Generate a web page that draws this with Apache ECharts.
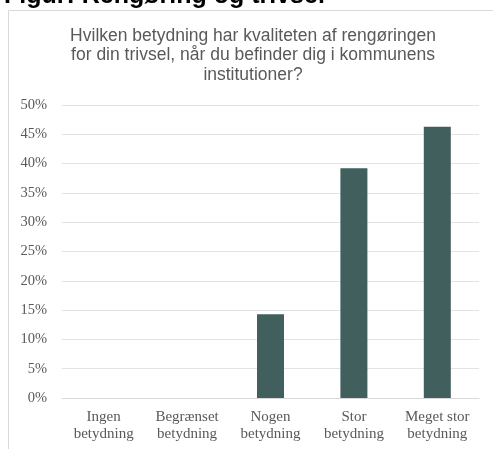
<!DOCTYPE html>
<html><head><meta charset="utf-8">
<script src="https://cdn.jsdelivr.net/npm/echarts@6/dist/echarts.min.js"></script>
<style>html,body{margin:0;padding:0;background:#fff}#c{width:493px;height:449px}</style>
</head><body><div id="c"></div>
<script>
const categories = ['Ingen\nbetydning', 'Begrænset\nbetydning', 'Nogen\nbetydning', 'Stor\nbetydning', 'Meget stor\nbetydning'];
const values = [0, 0, 14.3, 39.2, 46.3];
const yTicks = { min: 0, max: 50, interval: 5 };
const figTitle = 'Figur: Rengøring og trivsel';
const chartTitle = 'Hvilken betydning har kvaliteten af rengøringen\nfor din trivsel, når du befinder dig i kommunens\ninstitutioner?';

const chart = echarts.init(document.getElementById('c'), null, {renderer: 'canvas'});
chart.setOption({
  animation: false,
  backgroundColor: '#fff',
  graphic: [
    { type: 'rect', silent: true, z: -1,
      shape: { x: 8.5, y: 10.5, width: 600, height: 600 },
      style: { fill: 'none', stroke: '#d9d9d9', lineWidth: 1 } }
  ],
  title: [
    { text: figTitle, left: -1, top: -21,
      textStyle: { fontFamily: 'Liberation Sans, Arial', fontWeight: 'bold', fontSize: 25, color: '#000' } },
    { text: chartTitle, left: 248, top: 21, textAlign: 'center',
      textStyle: { fontFamily: 'Liberation Sans, Arial', fontWeight: 'normal', fontSize: 17.5, color: '#595959', lineHeight: 19.5 } }
  ],
  grid: { left: 62, right: 14, top: 105, bottom: 51 },
  xAxis: {
    type: 'category', data: categories,
    axisLine: { show: true, lineStyle: { color: '#d9d9d9', width: 1 } },
    axisTick: { show: false },
    axisLabel: { color: '#595959', fontFamily: 'Liberation Serif, Times New Roman', fontSize: 15, lineHeight: 17, margin: 11, interval: 0 }
  },
  yAxis: {
    type: 'value', min: yTicks.min, max: yTicks.max, interval: yTicks.interval,
    axisLine: { show: false }, axisTick: { show: false },
    splitLine: { lineStyle: { color: '#e3e3e3', width: 1 } },
    axisLabel: { color: '#595959', fontFamily: 'Liberation Serif, Times New Roman', fontSize: 14.5, margin: 15, formatter: v => v + '%' }
  },
  series: [{
    type: 'bar', data: values, barWidth: 27,
    itemStyle: { color: '#41605D' }
  }]
});
</script></body></html>
